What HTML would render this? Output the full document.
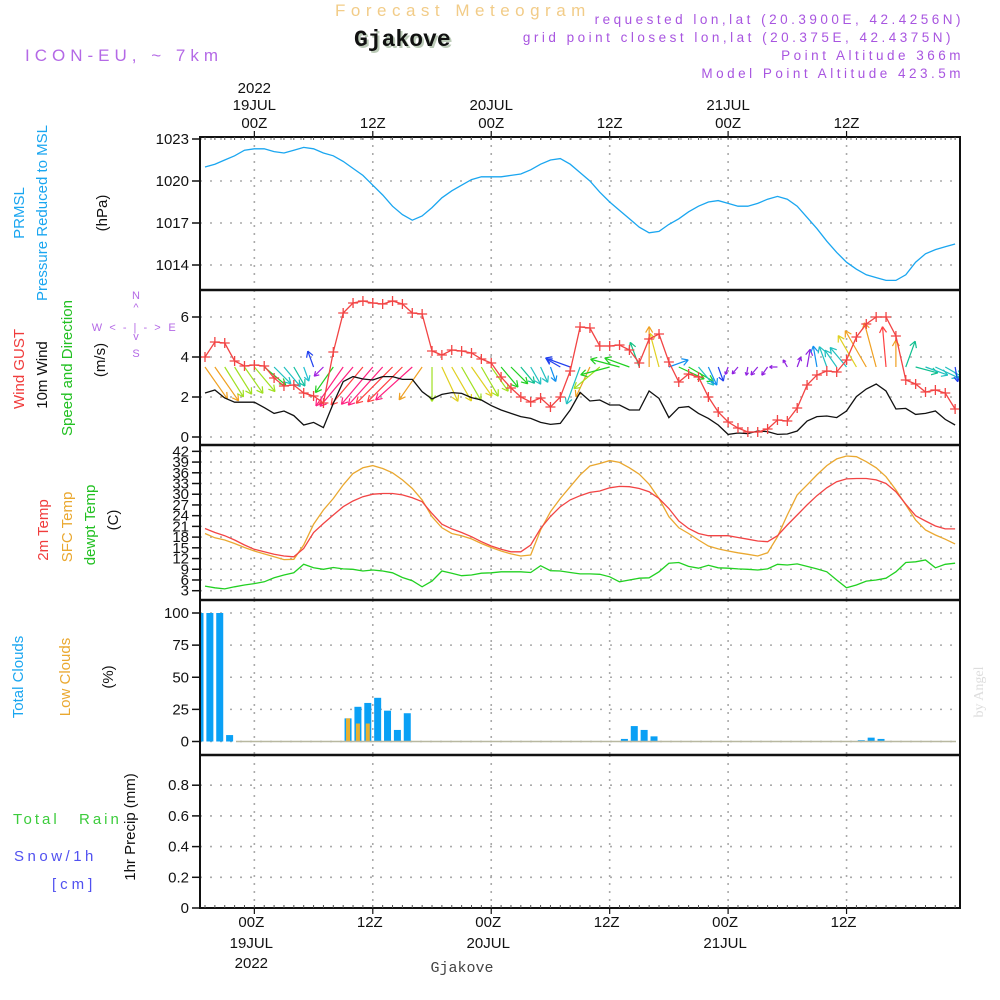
<!DOCTYPE html>
<html><head><meta charset="utf-8">
<style>
html,body{margin:0;padding:0;background:#fff;}
svg{display:block;font-family:"Liberation Sans",sans-serif;}
.t{fill:#111;font-size:15px;}
.tn{font-family:"Liberation Sans Narrow","Liberation Sans",sans-serif;}
</style></head>
<body>
<svg id="chart" width="1000" height="1000" viewBox="0 0 1000 1000" xmlns="http://www.w3.org/2000/svg">
<defs>
<clipPath id="c1"><rect x="201" y="138" width="758" height="151"/></clipPath>
<clipPath id="c2"><rect x="201" y="291" width="758" height="153"/></clipPath>
<clipPath id="c3"><rect x="201" y="446" width="758" height="153"/></clipPath>
<clipPath id="c4"><rect x="201" y="601" width="758" height="153"/></clipPath>
</defs>
<!-- headers -->
<text x="335" y="16" font-size="17" fill="#f2cc88" letter-spacing="5.5">Forecast Meteogram</text>
<text x="356" y="48" font-size="23" font-weight="bold" font-family="Liberation Mono,monospace" fill="#bccbb8">Gjakove</text>
<text x="354" y="46" font-size="23" font-weight="bold" font-family="Liberation Mono,monospace" fill="#111">Gjakove</text>
<text x="25" y="61" font-size="17" fill="#b469e6" letter-spacing="5">ICON-EU, ~ 7km</text>
<g font-size="13.5" fill="#a855e0" letter-spacing="3.5" text-anchor="end">
<text x="964" y="24">requested lon,lat (20.3900E, 42.4256N)</text>
<text x="954" y="42">grid point closest lon,lat (20.375E, 42.4375N)</text>
<text x="964" y="60">Point Altitude 366m</text>
<text x="964" y="78">Model Point Altitude 423.5m</text>
</g>
<g id="grid"></g>
<g id="marks"></g>
<g id="axes"></g>
<!-- left titles -->
<g font-size="15">
<text transform="translate(24,213) rotate(-90)" text-anchor="middle" fill="#1aa6f0">PRMSL</text>
<text transform="translate(47,213) rotate(-90)" text-anchor="middle" fill="#1aa6f0">Pressure Reduced to MSL</text>
<text transform="translate(107,213) rotate(-90)" text-anchor="middle" fill="#111">(hPa)</text>
<text transform="translate(24,369) rotate(-90)" text-anchor="middle" fill="#f03c3c">Wind GUST</text>
<text transform="translate(47,375) rotate(-90)" text-anchor="middle" fill="#111">10m Wind</text>
<text transform="translate(72,368) rotate(-90)" text-anchor="middle" fill="#22c022">Speed and Direction</text>
<text transform="translate(105,360) rotate(-90)" text-anchor="middle" fill="#111">(m/s)</text>
<text transform="translate(48,530) rotate(-90)" text-anchor="middle" fill="#f03c3c">2m Temp</text>
<text transform="translate(72,527) rotate(-90)" text-anchor="middle" fill="#eaa830">SFC Temp</text>
<text transform="translate(95,525) rotate(-90)" text-anchor="middle" fill="#22c022">dewpt Temp</text>
<text transform="translate(118,520) rotate(-90)" text-anchor="middle" fill="#111">(C)</text>
<text transform="translate(23,677) rotate(-90)" text-anchor="middle" fill="#1aa6f0">Total Clouds</text>
<text transform="translate(70,677) rotate(-90)" text-anchor="middle" fill="#eaa830">Low Clouds</text>
<text transform="translate(113,677) rotate(-90)" text-anchor="middle" fill="#111">(%)</text>
<text transform="translate(135,827) rotate(-90)" text-anchor="middle" fill="#111">1hr Precip (mm)</text>
<text x="13" y="824" fill="#3ccc3c" letter-spacing="3">Total</text>
<text x="79" y="824" fill="#3ccc3c" letter-spacing="3">Rain</text>
<text x="14" y="861" fill="#5050f0" letter-spacing="3.5">Snow/1h</text>
<text x="52" y="889" fill="#5050f0" letter-spacing="4">[cm]</text>
</g>
<g fill="#b469e6" font-size="11" text-anchor="middle">
<text x="136" y="299">N</text><text x="136" y="311">^</text><text x="136" y="340">v</text><text x="136" y="357">S</text>
<text x="97" y="331">W</text><text x="172" y="331">E</text>
<text x="136" y="331" letter-spacing="2">&lt; - | - &gt;</text>
</g>
<text transform="translate(983,692) rotate(-90)" text-anchor="middle" font-size="14" font-family="Liberation Serif,serif" fill="#dddddd">by Angel</text>
<text x="462" y="972" text-anchor="middle" font-size="15" font-family="Liberation Mono,monospace" fill="#444">Gjakove</text>
</svg>
<script>
// time index i -> hourly step starting 18JUL ~19Z
const hours = [];
for (let i = 0; i < 77; i++) hours.push(i);
const timeTicks = [5, 17, 29, 41, 53, 65];
const timeTickLabels = ["00Z", "12Z", "00Z", "12Z", "00Z", "12Z"];
const dateLabels = ["19JUL", "", "20JUL", "", "21JUL", ""];

const pressure = [1021.0,1021.2,1021.5,1021.8,1022.2,1022.3,1022.3,1022.1,1022.0,1022.2,1022.4,1022.3,1022.0,1021.8,1021.4,1020.9,1020.4,1019.7,1019.0,1018.2,1017.6,1017.2,1017.5,1018.1,1018.8,1019.3,1019.7,1020.1,1020.3,1020.3,1020.3,1020.4,1020.5,1020.8,1021.2,1021.5,1021.6,1021.2,1020.6,1020.0,1019.2,1018.5,1017.9,1017.3,1016.7,1016.3,1016.4,1016.9,1017.3,1017.8,1018.2,1018.5,1018.6,1018.4,1018.2,1018.2,1018.4,1018.7,1018.9,1018.7,1018.2,1017.4,1016.6,1015.7,1014.9,1014.2,1013.7,1013.3,1013.1,1012.9,1012.9,1013.3,1014.2,1014.8,1015.1,1015.3,1015.5];
const pressureTicks = [1014, 1017, 1020, 1023];

const gust = [4.0,4.75,4.7,3.8,3.55,3.6,3.55,2.95,2.55,2.6,2.2,2.05,1.7,4.25,6.2,6.7,6.8,6.7,6.65,6.8,6.65,6.2,6.15,4.3,4.1,4.35,4.3,4.2,3.9,3.7,3.0,2.45,2.0,1.75,1.95,1.5,2.0,3.3,5.5,5.45,4.55,4.55,4.6,4.35,3.7,4.9,5.15,3.75,2.75,3.15,3.0,2.0,1.25,0.75,0.45,0.25,0.25,0.4,0.85,0.8,1.45,2.6,3.1,3.3,3.25,3.85,5.0,5.65,6.0,6.0,5.05,2.85,2.65,2.25,2.35,2.2,1.4];
const wind10 = [2.2,2.35,1.95,1.74,1.74,1.74,1.47,1.18,1.3,1.07,0.6,0.73,0.47,1.68,2.77,3.02,2.9,2.85,3.02,3.02,2.88,2.88,2.27,1.9,2.13,2.22,2.18,1.97,1.85,1.57,1.35,1.18,1.02,0.93,0.73,0.63,0.68,1.35,2.23,1.8,1.85,1.6,1.6,1.35,1.35,2.3,1.93,0.97,1.47,1.52,1.18,0.93,0.6,0.13,0.2,0.17,0.3,0.27,0.13,0.15,0.3,0.8,1.02,1.05,0.97,1.3,2.02,2.4,2.65,2.3,1.4,1.43,1.13,1.18,1.3,0.88,0.6];
const windDir = [145,145,148,148,145,140,130,135,140,150,160,340,225,215,215,220,220,220,222,225,225,228,215,180,155,150,150,145,150,145,140,135,140,150,155,160,300,290,200,205,230,255,285,290,340,0,345,70,115,120,140,155,160,200,220,190,220,215,270,330,20,10,350,340,325,320,330,330,345,355,0,20,105,110,115,120,170];
const windTicks = [0, 2, 4, 6];
const arrowColors = ["#f0a020","#f0a020","#a0e020","#a0e020","#a0e020","#a0e020","#20d020","#20c0c0","#20c0c0","#10c0a0","#20c0d0","#2040f0","#a020e0","#20d020","#ff2080","#ff2080","#ff4040","#ff2080","#ff2080","#ff4040","#ff4040","#ff2080","#f0a020","#a0e020","#e0d020","#e0d020","#a0e020","#e0d020","#a0e020","#a0e020","#20d020","#20d020","#10c090","#20c0c0","#20c0c0","#1090f0","#2040f0","#2040f0","#20c0c0","#f0a020","#a0e020","#20d020","#20d020","#20d020","#10c080","#f0a020","#e0d020","#1090f0","#20d020","#20d020","#20c0c0","#1090f0","#2040f0","#9020e0","#9020e0","#9020e0","#9020e0","#9020e0","#9020e0","#9020e0","#9020e0","#9020e0","#1090f0","#20c0c0","#20c0c0","#20c0c0","#e0d020","#f0a020","#f0a020","#ff4040","#f0a020","#10c090","#10c090","#20c0c0","#20c0c0","#20c0c0","#2040f0"];

const temp2m = [20.4,19.3,18.4,17.2,15.8,14.6,13.9,13.2,12.7,12.5,14.8,19.3,21.8,24.2,26.5,28.1,29.3,30.0,30.2,30.2,29.8,29.0,27.9,24.6,21.6,20.3,19.3,18.1,16.7,15.5,14.6,13.9,13.9,15.8,20.4,23.8,26.5,28.4,29.6,30.5,30.9,31.8,32.2,32.1,31.6,30.7,28.8,26.0,22.5,20.4,19.0,18.4,18.4,18.4,17.9,17.4,16.9,16.7,18.4,21.4,24.2,27.0,29.6,31.8,33.5,34.3,34.4,34.4,34.0,33.0,30.7,27.2,24.0,22.5,21.1,20.3,20.3];
const tempSfc = [19.0,17.8,17.2,16.2,15.1,14.1,13.3,12.5,11.7,11.8,15.8,21.6,25.6,28.8,32.6,35.8,37.4,38.0,37.2,36.0,34.0,31.6,28.4,23.7,20.6,19.0,18.4,17.5,16.2,15.1,14.1,13.3,12.7,13.0,20.0,25.1,28.8,32.1,35.4,37.9,38.6,39.4,38.9,37.4,35.6,32.8,28.8,23.7,20.6,19.0,17.2,15.5,14.7,14.1,13.6,13.2,12.7,13.6,18.1,24.2,29.8,32.6,35.4,38.0,39.9,40.7,40.5,39.1,37.4,34.9,31.2,27.0,22.8,20.0,18.6,17.4,16.1];
const dewpt = [4.3,3.8,3.5,4.1,4.6,5.0,5.5,6.6,7.4,8.0,10.4,9.4,9.0,9.5,9.1,9.0,8.5,8.8,8.5,8.0,6.7,5.8,4.1,5.7,8.5,7.9,7.2,7.4,7.9,8.0,8.3,8.3,8.3,8.1,10.0,8.6,8.5,8.1,7.7,7.7,7.6,6.9,5.5,6.0,6.5,6.6,8.3,10.7,10.9,9.8,9.3,10.1,9.4,9.3,9.1,9.0,8.8,9.1,10.4,10.2,10.5,9.8,9.1,8.3,6.0,3.8,4.6,5.7,6.0,6.5,8.3,10.9,11.1,11.6,9.4,10.4,10.7];
const tempTicks = [3,6,9,12,15,18,21,24,27,30,33,36,39,42];

const totalClouds = [100,100,100,5,0,0,0,0,0,0,0,0,0,0,0,18,27,30,34,24,9,22,0,0,0,0,0,0,0,0,0,0,0,0,0,0,0,0,0,0,0,0,0,2,12,9,4,0,0,0,0,0,0,0,0,0,0,0,0,0,0,0,0,0,0,0,0,1,3,2,0,0,0,0,0,0,0];
const lowClouds = [0,0,0,0,0,0,0,0,0,0,0,0,0,0,0,18,14,14,0,0,0,0,0,0,0,0,0,0,0,0,0,0,0,0,0,0,0,0,0,0,0,0,0,0,0,0,0,0,0,0,0,0,0,0,0,0,0,0,0,0,0,0,0,0,0,0,0,0,0,0,0,0,0,0,0,0,0];
const cloudTicks = [0, 25, 50, 75, 100];
const precipTicks = [0, 0.2, 0.4, 0.6, 0.8];

const NS = "http://www.w3.org/2000/svg";
const X0 = 200, X1 = 960;
const xs = i => 205 + 9.87 * i;
const yP = v => 181 + (1020 - v) * 14;
const yW = v => 437 - v * 20;
const yT = v => 590.7 - (v - 3) * 3.573;
const yC = v => 741.5 - v * 1.285;
const yR = v => 908 - v * 153.5;
function mk(tag, attrs, parent) {
  const e = document.createElementNS(NS, tag);
  for (const k in attrs) e.setAttribute(k, attrs[k]);
  parent.appendChild(e);
  return e;
}
const grid = document.getElementById('grid');
const marks = document.getElementById('marks');
const axes = document.getElementById('axes');
const panels = [[137, 290], [290, 445], [445, 600], [600, 755], [755, 908]];

panels.forEach(p => {
  timeTicks.forEach(t => {
    const l = mk('line', {x1: xs(t), x2: xs(t), y1: p[0], y2: p[1], stroke: '#aaa', 'stroke-width': 1.6, 'stroke-dasharray': '2,6'}, grid);
    
    
  });
});
function hgrid(ticks, yf, labels, name, fs) {
  ticks.forEach((v, k) => {
    const y = yf(v);
    const l = mk('line', {x1: X0, x2: X1, y1: y, y2: y, stroke: '#aaa', 'stroke-width': 1.6, 'stroke-dasharray': '2,8'}, grid);
    
    
    mk('line', {x1: 192, x2: X0, y1: y, y2: y, stroke: '#111', 'stroke-width': 1.5}, axes);
    const t = mk('text', {x: 189, y: y + 5, 'text-anchor': 'end', class: 't', 'font-size': fs}, axes);
    t.textContent = labels[k];
    
    
  });
}
hgrid(pressureTicks, yP, pressureTicks.map(String), 'pressure', 15);
hgrid(windTicks, yW, windTicks.map(String), 'wind', 15);
hgrid(tempTicks, yT, tempTicks.map(String), 'temp', 14);
hgrid(cloudTicks, yC, cloudTicks.map(String), 'cloud', 15);
hgrid(precipTicks, yR, precipTicks.map(v => v === 0 ? '0' : v.toFixed(1)), 'precip', 15);

function line(vals, yf, color, clip, name, w) {
  const pts = vals.map((v, i) => xs(i).toFixed(1) + ',' + yf(v).toFixed(1)).join(' ');
  const p = mk('polyline', {points: pts, fill: 'none', stroke: color, 'stroke-width': w || 1.3, 'clip-path': 'url(#' + clip + ')'}, marks);
  
  
}
line(pressure, yP, '#1aa6f0', 'c1', 'pressure-line');
totalClouds.forEach((v, i) => {
  const cx = xs(i) - 5;
  if (v > 0) {
    const b = mk('rect', {x: cx - 3.5, y: yC(v), width: 7, height: yC(0) - yC(v), fill: '#0aa0f5', 'clip-path': 'url(#c4)'}, marks);
    
    
  }
  if (lowClouds[i] > 0) {
    const b = mk('rect', {x: cx - 2, y: yC(lowClouds[i]), width: 4, height: yC(0) - yC(lowClouds[i]), fill: '#e8b030', 'clip-path': 'url(#c4)'}, marks);
    
    
  }
});
const zl = mk('line', {x1: 236, x2: 956, y1: yC(0), y2: yC(0), stroke: '#b8b8a0', 'stroke-width': 1.5}, marks);


windDir.forEach((d, i) => {
  const len = Math.min(52, 6 + 15 * wind10[i]);
  const a = d * Math.PI / 180;
  const x1 = xs(i), y1 = yW(3.5);
  const x2 = x1 + Math.sin(a) * len, y2 = y1 - Math.cos(a) * len;
  const g = mk('g', {stroke: arrowColors[i], 'stroke-width': 1.2, fill: 'none', 'clip-path': 'url(#c2)'}, marks);
  
  
  mk('line', {x1: x1, y1: y1, x2: x2, y2: y2}, g);
  const h = Math.min(7, len * 0.4);
  [150, -150].forEach(o => {
    const b = a + o * Math.PI / 180;
    mk('line', {x1: x2, y1: y2, x2: x2 + Math.sin(b) * h, y2: y2 - Math.cos(b) * h}, g);
  });
});
line(wind10, yW, '#111', 'c2', 'wind-10m-line');
line(gust, yW, '#f24444', 'c2', 'wind-gust-line');
gust.forEach((v, i) => {
  const x = xs(i), y = yW(v);
  const p = mk('path', {d: `M${x - 5},${y}H${x + 5}M${x},${y - 5}V${y + 5}`, stroke: '#f24444', 'stroke-width': 1.3, 'clip-path': 'url(#c2)'}, marks);
  
  
});
line(tempSfc, yT, '#eaa830', 'c3', 'sfc-temp-line');
line(temp2m, yT, '#f24444', 'c3', 'temp-2m-line');
line(dewpt, yT, '#22d022', 'c3', 'dewpt-line');

const fr = mk('rect', {x: X0, y: 137, width: X1 - X0, height: 908 - 137, fill: 'none', stroke: '#111', 'stroke-width': 2}, axes);


[290, 445, 600, 755].forEach(y => {
  const l = mk('line', {x1: X0, x2: X1, y1: y, y2: y, stroke: '#111', 'stroke-width': 2.5}, axes);
  
  
});
hours.forEach(i => {
  if (xs(i) > X1) return;
  mk('line', {x1: xs(i), x2: xs(i), y1: 137, y2: 140, stroke: '#555', 'stroke-width': 1}, axes);
  mk('line', {x1: xs(i), x2: xs(i), y1: 905, y2: 908, stroke: '#555', 'stroke-width': 1}, axes);
});
timeTicks.forEach((t, k) => {
  const x = xs(t);
  mk('line', {x1: x, x2: x, y1: 131, y2: 137, stroke: '#111', 'stroke-width': 1.2}, axes);
  mk('line', {x1: x, x2: x, y1: 908, y2: 914, stroke: '#111', 'stroke-width': 1.2}, axes);
  const tt = mk('text', {x: x, y: 128, 'text-anchor': 'middle', class: 't tn', 'font-size': 17, fill: '#222'}, axes);
  tt.textContent = timeTickLabels[k];
  
  
  const tb = mk('text', {x: x - 3, y: 927, 'text-anchor': 'middle', class: 't tn', 'font-size': 17, fill: '#222'}, axes);
  tb.textContent = timeTickLabels[k];
  
  
  if (dateLabels[k]) {
    const d1 = mk('text', {x: x, y: 110, 'text-anchor': 'middle', class: 't tn', 'font-size': 17, fill: '#222'}, axes);
    d1.textContent = dateLabels[k];
    
    
    const d2 = mk('text', {x: x - 3, y: 948, 'text-anchor': 'middle', class: 't tn', 'font-size': 17, fill: '#222'}, axes);
    d2.textContent = dateLabels[k];
    
    
  }
});
const y1 = mk('text', {x: xs(5), y: 93, 'text-anchor': 'middle', class: 't tn', 'font-size': 17, fill: '#222'}, axes);
y1.textContent = '2022';


const y2 = mk('text', {x: xs(5) - 3, y: 968, 'text-anchor': 'middle', class: 't tn', 'font-size': 17, fill: '#222'}, axes);
y2.textContent = '2022';


</script>
</body></html>
